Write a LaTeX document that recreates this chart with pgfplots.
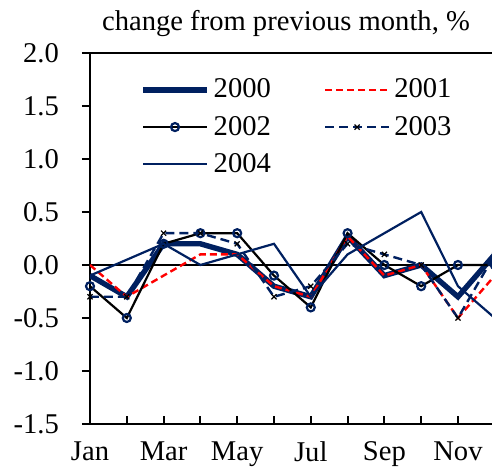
\documentclass[border=0pt]{standalone}
\usepackage{fontspec}
\setmainfont{Liberation Serif}
\usepackage{pgfplots}
\pgfplotsset{compat=1.18}
\definecolor{navy}{RGB}{0,32,96}

\begin{document}
\begin{tikzpicture}
\begin{axis}[
    scale only axis, width=203.3pt, height=185.5pt,
    xmin=0, xmax=11.05, ymin=-1.5, ymax=2,
    xtick={0,...,11}, xticklabels={Jan,,Mar,,May,,Jul,,Sep,,Nov,},
    ytick={-1.5,-1,...,2}, yticklabels={-1.5,-1.0,-0.5,0.0,0.5,1.0,1.5,2.0},
    xtick align=inside, ytick align=outside,
    xtick pos=left, ytick pos=left,
    major tick length=4pt,
    axis line style={line width=1pt},
    tick style={black, line width=1pt},
    tick label style={font=\fontsize{14.3}{17}\selectfont},
    yticklabel style={xshift=-8pt},
    xticklabel style={yshift=-5.5pt},
    legend columns=2, legend cell align=left,
    legend style={draw=none, fill=none, font=\fontsize{14.3}{17}\selectfont,
        at={(axis description cs:0.108,0.953)}, anchor=north west,
        /tikz/every even column/.append style={column sep=24.5pt}, row sep=3.6pt},
    legend image code/.code={\draw[mark repeat=2, mark phase=2, #1]
        plot coordinates {(0pt,0pt) (16pt,0pt) (32pt,0pt)};},
]
\addplot[black, line width=0.8pt, forget plot] coordinates {(0,0) (11.05,0)};

\addplot[navy, line width=2.7pt] coordinates {
    (0,-0.1)(1,-0.3)(2,0.2)(3,0.2)(4,0.1)(5,-0.2)
    (6,-0.3)(7,0.27)(8,-0.1)(9,0.0)(10,-0.3)(11,0.1)};
\addlegendentry{2000}

\addplot[red, line width=1.2pt, dash pattern=on 3.5pt off 2pt] coordinates {
    (0,0.0)(1,-0.3)(2,-0.1)(3,0.1)(4,0.1)(5,-0.2)
    (6,-0.3)(7,0.27)(8,-0.1)(9,0.0)(10,-0.5)(11,-0.1)};
\addlegendentry{2001}

\addplot[black, line width=1.1pt, mark=o,
    mark options={draw=navy, fill=white, line width=1.1pt}, mark size=2pt] coordinates {
    (0,-0.2)(1,-0.5)(2,0.2)(3,0.3)(4,0.3)(5,-0.1)
    (6,-0.4)(7,0.3)(8,0.0)(9,-0.2)(10,0.0)(11,0.0)};
\addlegendentry{2002}

\addplot[navy, line width=1.2pt, dash pattern=on 4.5pt off 2.5pt, mark=x,
    mark options={black, solid, line width=0.6pt}, mark size=1.8pt] coordinates {
    (0,-0.3)(1,-0.3)(2,0.3)(3,0.3)(4,0.2)(5,-0.3)
    (6,-0.2)(7,0.2)(8,0.1)(9,0.0)(10,-0.5)(11,0.1)};
\addlegendentry{2003}

\addplot[navy, line width=1.1pt] coordinates {
    (0,-0.1)(1,0.05)(2,0.2)(3,0.0)(4,0.1)(5,0.2)
    (6,-0.3)(7,0.1)(8,0.3)(9,0.5)(10,-0.2)(11,-0.5)};
\addlegendentry{2004}
\end{axis}
\node[anchor=base, font=\fontsize{14.3}{17}\selectfont] at (98pt,196.5pt)
    {change from previous month, \%};
\pgfresetboundingbox
\useasboundingbox (-45pt,-25.5pt) rectangle (201pt,212pt);
\end{tikzpicture}
\end{document}
